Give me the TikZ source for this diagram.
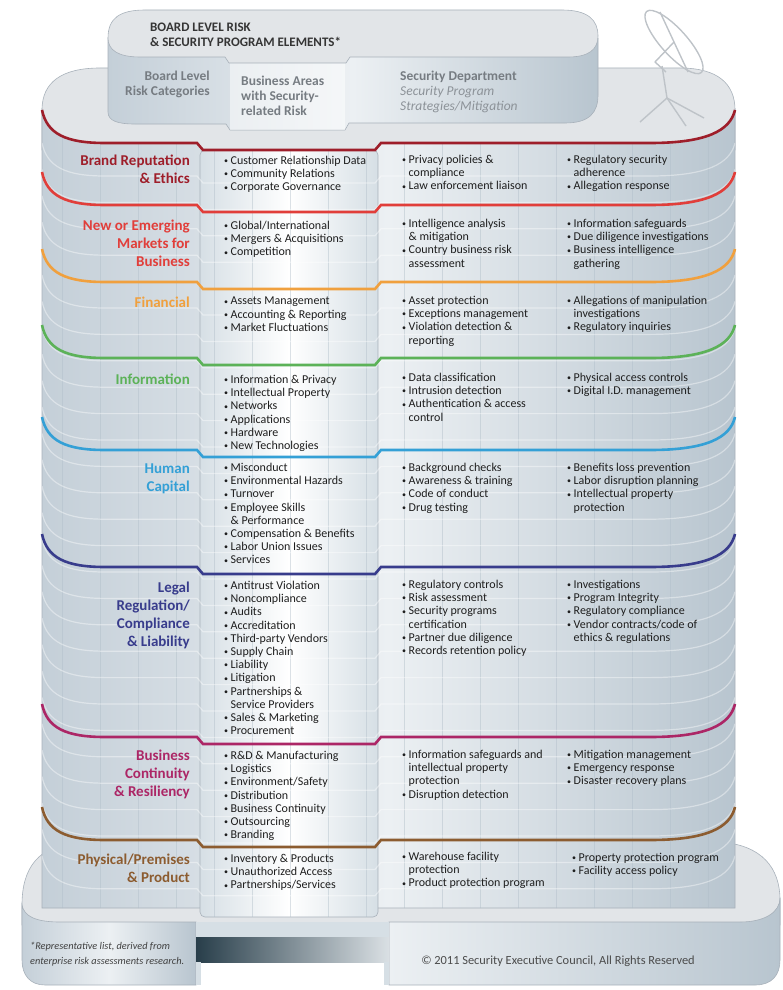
\documentclass[tikz,border=0pt]{standalone}
\usepackage{fontspec}
\setmainfont{Carlito}
\definecolor{brand}{RGB}{158,30,42}
\definecolor{newmkt}{RGB}{225,62,58}
\definecolor{financial}{RGB}{240,160,62}
\definecolor{information}{RGB}{92,178,88}
\definecolor{human}{RGB}{52,160,214}
\definecolor{legal}{RGB}{56,60,140}
\definecolor{continuity}{RGB}{172,38,102}
\definecolor{physical}{RGB}{140,92,48}
\definecolor{headgray}{RGB}{118,124,130}
\definecolor{softgray}{RGB}{140,146,152}
\definecolor{bodytext}{RGB}{30,30,30}
\definecolor{edge}{RGB}{168,177,186}
\definecolor{towerside}{RGB}{196,207,216}
\definecolor{towermid}{RGB}{236,240,243}
\definecolor{towerright}{RGB}{184,197,207}
\definecolor{colside}{RGB}{214,223,229}
\definecolor{roofgray}{RGB}{226,229,232}
\definecolor{dishgray}{RGB}{190,195,200}
\definecolor{gridblue}{RGB}{176,190,201}
\newcommand\bu{\makebox[6.5pt][l]{\raisebox{.15ex}{\fontsize{8}{8}\selectfont\textbullet}}}
\newcommand\hg{\hspace*{6.5pt}}
\newcommand\band[1]{(42,#1-33) .. controls (47,#1-9) and (66,#1) .. (105,#1) -- (197,#1) -- (203,#1+7) -- (375,#1+7) -- (381,#1) -- (650,#1) .. controls (706,#1) and (730,#1-12) .. (735,#1-33)}
\begin{document}
\begin{tikzpicture}[x=1pt, y=-1pt,
  cat/.style={anchor=north east, inner sep=0pt, align=right, font=\bfseries\fontsize{15}{18}\selectfont},
  area/.style={anchor=north west, inner sep=0pt, align=left, text=bodytext, font=\fontsize{12}{13.2}\selectfont},
  head/.style={inner sep=0pt, text=headgray, font=\bfseries\fontsize{13.5}{15}\selectfont},
  bandline/.style={line width=2.6pt},
  gridline/.style={draw=gridblue, line width=.5pt, opacity=.45},
  floor/.style={draw=white, line width=1.2pt, opacity=.4},
  wall/.style={draw=edge, line width=.6pt},
  dish/.style={draw=dishgray, line width=1.4pt, line join=round}]
\useasboundingbox (0,0) rectangle (783,990);

% base
\draw[wall, fill=roofgray] (22,905) .. controls (22,868) and (38,845) .. (80,842) -- (720,842) .. controls (762,845) and (780,868) .. (780,900) -- (780,925) -- (22,925) -- cycle;
\draw[wall, left color=towerside, right color=towerright, middle color=towermid] (22,905) .. controls (24,916) and (35,922) .. (60,922) -- (196,922) -- (196,985) -- (45,985) .. controls (30,985) and (22,975) .. (22,960) -- cycle;
\draw[wall, left color=towermid, right color=towerright] (389,922) -- (740,922) .. controls (765,922) and (780,912) .. (780,898) -- (780,960) .. controls (780,975) and (772,985) .. (755,985) -- (389,985) -- cycle;
\fill[colside] (196,922) rectangle (389,937);
\shade[left color={rgb,255:red,40;green,62;blue,74}, right color={rgb,255:red,218;green,224;blue,228}] (196,937) rectangle (389,962);
\fill[colside] (196,962) rectangle (201,985);
\fill[colside] (384,962) rectangle (389,985);

% roof
\draw[wall, fill=roofgray] (42,110) .. controls (42,82) and (62,68) .. (100,68) -- (680,68) .. controls (718,68) and (735,84) .. (735,110) -- (735,150) -- (42,150) -- cycle;

% dish
\draw[dish, shift={(674,42)}, rotate=-48] (0,0) ellipse [x radius=41pt, y radius=13pt];
\draw[dish] (660,12) -- (688,72);
\draw[dish] (674,42) -- (655,62) -- (666,72);
\draw[dish] (662,66) -- (667,98);
\draw[dish] (667,98) -- (640,122);
\draw[dish] (667,98) -- (686,126);
\draw[dish] (667,98) -- (704,118);

% board capsule
\draw[wall, left color=towerside, right color=towerright, middle color=towermid] (108,38) -- (108,112) .. controls (108,121) and (118,124) .. (135,124) -- (226,124) -- (230,130) -- (345,130) -- (349,123) -- (565,123) .. controls (590,123) and (598,112) .. (598,95) -- (598,38) -- cycle;
\fill[white, opacity=.5] (230,63) rectangle (345,130);
\draw[wall, fill=roofgray] (108,38) .. controls (108,18) and (120,10) .. (145,10) -- (562,10) .. controls (588,10) and (598,20) .. (598,36) .. controls (598,50) and (588,57) .. (568,57) -- (350,57) -- (346,63) -- (229,63) -- (225,57) -- (140,57) .. controls (118,57) and (108,50) .. cycle;

% tower
\draw[wall, left color=towerside, right color=towerright, middle color=towermid] \band{143} -- (735,908) -- (42,908) -- cycle;
\draw[wall, left color=colside, right color=colside, middle color=white, rounded corners=5pt] (200,150) -- (378,150) -- (378,917) -- (200,917) -- cycle;
\begin{scope}
\clip \band{143} -- (735,908) -- (378,908) -- (378,917) -- (200,917) -- (200,908) -- (42,908) -- cycle;
\foreach \x in {62,100,...,730} \draw[gridline] (\x,70) -- (\x,917);
\foreach \y in {176,202.4,...,910} \draw[floor] \band{\y};
\end{scope}

% bands
\draw[bandline, brand] \band{143};
\draw[bandline, newmkt] \band{205};
\draw[bandline, financial] \band{282};
\draw[bandline, information] \band{358};
\draw[bandline, human] \band{450};
\draw[bandline, legal] \band{567};
\draw[bandline, continuity] \band{737};
\draw[bandline, physical] \band{840};

% headings
\node[head, anchor=north west, text=bodytext!90, font=\bfseries\fontsize{13}{15}\selectfont, align=left] (h1) at (150,23) {BOARD LEVEL RISK\\\& SECURITY PROGRAM ELEMENTS*};
\node[head, anchor=north east, align=right] (h2) at (210,71) {Board Level\\Risk Categories};
\node[head, anchor=north west, align=left] (h3) at (241,76) {Business Areas\\with Security-\\related Risk};
\node[head, anchor=north west] (h4) at (400,71) {Security Department};
\node[head, anchor=north west, align=left, text=softgray, font=\itshape\fontsize{13.5}{15}\selectfont] (h5) at (400,86) {Security Program\\Strategies/Mitigation};

% categories
\node[cat, text=brand] (c1) at (190,155) {Brand Reputation\\\& Ethics};
\node[cat, text=newmkt] (c2) at (190,220) {New or Emerging\\Markets for\\Business};
\node[cat, text=financial] (c3) at (190,297) {Financial};
\node[cat, text=information] (c4) at (190,374) {Information};
\node[cat, text=human] (c5) at (190,464) {Human\\Capital};
\node[cat, text=legal] (c6) at (190,582) {Legal\\Regulation/\\Compliance\\\& Liability};
\node[cat, text=continuity] (c7) at (190,750) {Business\\Continuity\\\& Resiliency};
\node[cat, text=physical] (c8) at (190,854) {Physical/Premises\\\& Product};

% business areas
\node[area] (a1) at (224,156) {\bu Customer Relationship Data\\\bu Community Relations\\\bu Corporate Governance};
\node[area] (a2) at (224,221) {\bu Global/International\\\bu Mergers \& Acquisitions\\\bu Competition};
\node[area] (a3) at (224,297) {\bu Assets Management\\\bu Accounting \& Reporting\\\bu Market Fluctuations};
\node[area] (a4) at (224,375) {\bu Information \& Privacy\\\bu Intellectual Property\\\bu Networks\\\bu Applications\\\bu Hardware\\\bu New Technologies};
\node[area] (a5) at (224,463) {\bu Misconduct\\\bu Environmental Hazards\\\bu Turnover\\\bu Employee Skills\\\hg\& Performance\\\bu Compensation \& Benefits\\\bu Labor Union Issues\\\bu Services};
\node[area] (a6) at (224,581) {\bu Antitrust Violation\\\bu Noncompliance\\\bu Audits\\\bu Accreditation\\\bu Third-party Vendors\\\bu Supply Chain\\\bu Liability\\\bu Litigation\\\bu Partnerships \&\\\hg Service Providers\\\bu Sales \& Marketing\\\bu Procurement};
\node[area] (a7) at (224,751) {\bu R\&D \& Manufacturing\\\bu Logistics\\\bu Environment/Safety\\\bu Distribution\\\bu Business Continuity\\\bu Outsourcing\\\bu Branding};
\node[area] (a8) at (224,854) {\bu Inventory \& Products\\\bu Unauthorized Access\\\bu Partnerships/Services};

% security department
\node[area] (s1) at (402,155) {\bu Privacy policies \&\\\hg compliance\\\bu Law enforcement liaison};
\node[area] (t1) at (567,155) {\bu Regulatory security\\\hg adherence\\\bu Allegation response};
\node[area] (s2) at (402,219) {\bu Intelligence analysis\\\hg\& mitigation\\\bu Country business risk\\\hg assessment};
\node[area] (t2) at (567,219) {\bu Information safeguards\\\bu Due diligence investigations\\\bu Business intelligence\\\hg gathering};
\node[area] (s3) at (402,296) {\bu Asset protection\\\bu Exceptions management\\\bu Violation detection \&\\\hg reporting};
\node[area] (t3) at (567,296) {\bu Allegations of manipulation\\\hg investigations\\\bu Regulatory inquiries};
\node[area] (s4) at (402,373) {\bu Data classification\\\bu Intrusion detection\\\bu Authentication \& access\\\hg control};
\node[area] (t4) at (567,373) {\bu Physical access controls\\\bu Digital I.D. management};
\node[area] (s5) at (402,463) {\bu Background checks\\\bu Awareness \& training\\\bu Code of conduct\\\bu Drug testing};
\node[area] (t5) at (567,463) {\bu Benefits loss prevention\\\bu Labor disruption planning\\\bu Intellectual property\\\hg protection};
\node[area] (s6) at (402,580) {\bu Regulatory controls\\\bu Risk assessment\\\bu Security programs\\\hg certification\\\bu Partner due diligence\\\bu Records retention policy};
\node[area] (t6) at (567,580) {\bu Investigations\\\bu Program Integrity\\\bu Regulatory compliance\\\bu Vendor contracts/code of\\\hg ethics \& regulations};
\node[area] (s7) at (402,750) {\bu Information safeguards and\\\hg intellectual property\\\hg protection\\\bu Disruption detection};
\node[area] (t7) at (567,750) {\bu Mitigation management\\\bu Emergency response\\\bu Disaster recovery plans};
\node[area] (s8) at (402,852) {\bu Warehouse facility\\\hg protection\\\bu Product protection program};
\node[area] (t8) at (572,853) {\bu Property protection program\\\bu Facility access policy};

% footer
\node[anchor=north west, inner sep=0pt, align=left, text=bodytext!85, font=\itshape\fontsize{10.3}{15}\selectfont] (f1) at (30,942) {*Representative list, derived from\\enterprise risk assessments research.};
\node[inner sep=0pt, text=bodytext!80, font=\fontsize{12.4}{14}\selectfont] (f2) at (558,961) {\textcopyright{} 2011 Security Executive Council, All Rights Reserved};
\end{tikzpicture}
\end{document}
